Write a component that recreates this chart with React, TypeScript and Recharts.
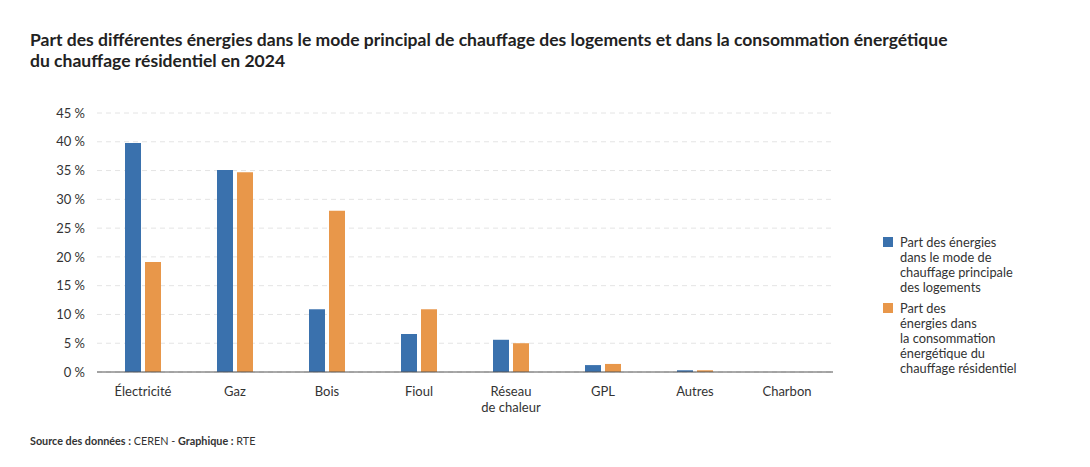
import React from 'react'
import { BarChart, Bar, XAxis, YAxis, CartesianGrid } from 'recharts'

const CATEGORIES = ['Électricité', 'Gaz', 'Bois', 'Fioul', 'Réseau\nde chaleur', 'GPL', 'Autres', 'Charbon']
const LOGEMENTS = [39.8, 35.1, 10.9, 6.6, 5.6, 1.2, 0.3, 0]
const CONSOMMATION = [19.1, 34.7, 28.0, 10.9, 5.0, 1.4, 0.3, 0]
const Y_TICKS = [0, 5, 10, 15, 20, 25, 30, 35, 40, 45]

const SERIES = [
  { key: 'logements', color: '#3a71ad', label: ['Part des énergies', 'dans le mode de', 'chauffage principale', 'des logements'] },
  { key: 'conso', color: '#e8974a', label: ['Part des', 'énergies dans', 'la consommation', 'énergétique du', 'chauffage résidentiel'] },
]

const FONT = 'Lato, "Noto Sans", sans-serif'

const rows = CATEGORIES.map((c, i) => ({ cat: c, logements: LOGEMENTS[i], conso: CONSOMMATION[i] }))

function CatTick({ x, y, payload }: any) {
  const lines = String(payload.value).split('\n')
  return (
    <text x={x} y={y} textAnchor="middle" fontSize={13} fill="#333" fontFamily={FONT}>
      {lines.map((l, i) => <tspan key={i} x={x} dy={i === 0 ? '0.71em' : 16}>{l}</tspan>)}
    </text>
  )
}

export default function App() {
  return (
    <div style={{ position: 'fixed', top: 0, left: 0, width: 1090, height: 467, background: '#fff', fontFamily: FONT, color: '#222' }}>
      <div style={{ position: 'absolute', left: 30, top: 29, fontSize: 17.55, fontWeight: 700, lineHeight: '21px', width: 1040 }}>
        Part des différentes énergies dans le mode principal de chauffage des logements et dans la consommation énergétique<br />
        du chauffage résidentiel en 2024
      </div>
      <BarChart width={1090} height={467} data={rows} barSize={16} barGap={4}
        margin={{ top: 113, right: 257, bottom: 50, left: 37 }} style={{ position: 'absolute', left: 0, top: 0 }}>
        <CartesianGrid vertical={false} stroke="#e4e4e4" strokeDasharray="5 4" />
        <XAxis dataKey="cat" tick={<CatTick />} tickLine={false} tickSize={0} tickMargin={15} height={45}
          axisLine={{ stroke: '#555', strokeWidth: 1 }} interval={0} />
        <YAxis domain={[0, 45]} ticks={Y_TICKS} tickFormatter={(v: number) => `${v} %`} width={60}
          tick={{ fontSize: 13, fill: '#333', fontFamily: FONT }} tickLine={false} tickSize={0} tickMargin={12} axisLine={false} />
        {SERIES.map(s => <Bar key={s.key} dataKey={s.key} fill={s.color} isAnimationActive={false} />)}
      </BarChart>
      <div style={{ position: 'absolute', left: 883, top: 235, fontSize: 12.8, lineHeight: '15px', color: '#333' }}>
        {SERIES.map(s => (
          <div key={s.key} style={{ display: 'flex', marginBottom: 6 }}>
            <span style={{ width: 10, height: 10, background: s.color, marginTop: 2, marginRight: 7, flex: 'none' }} />
            <span>{s.label.map((l, i) => <div key={i}>{l}</div>)}</span>
          </div>
        ))}
      </div>
      <div style={{ position: 'absolute', left: 30, top: 434, fontSize: 10.8, color: '#333' }}>
        <b>Source des données :</b> CEREN - <b>Graphique :</b> RTE
      </div>
    </div>
  )
}
